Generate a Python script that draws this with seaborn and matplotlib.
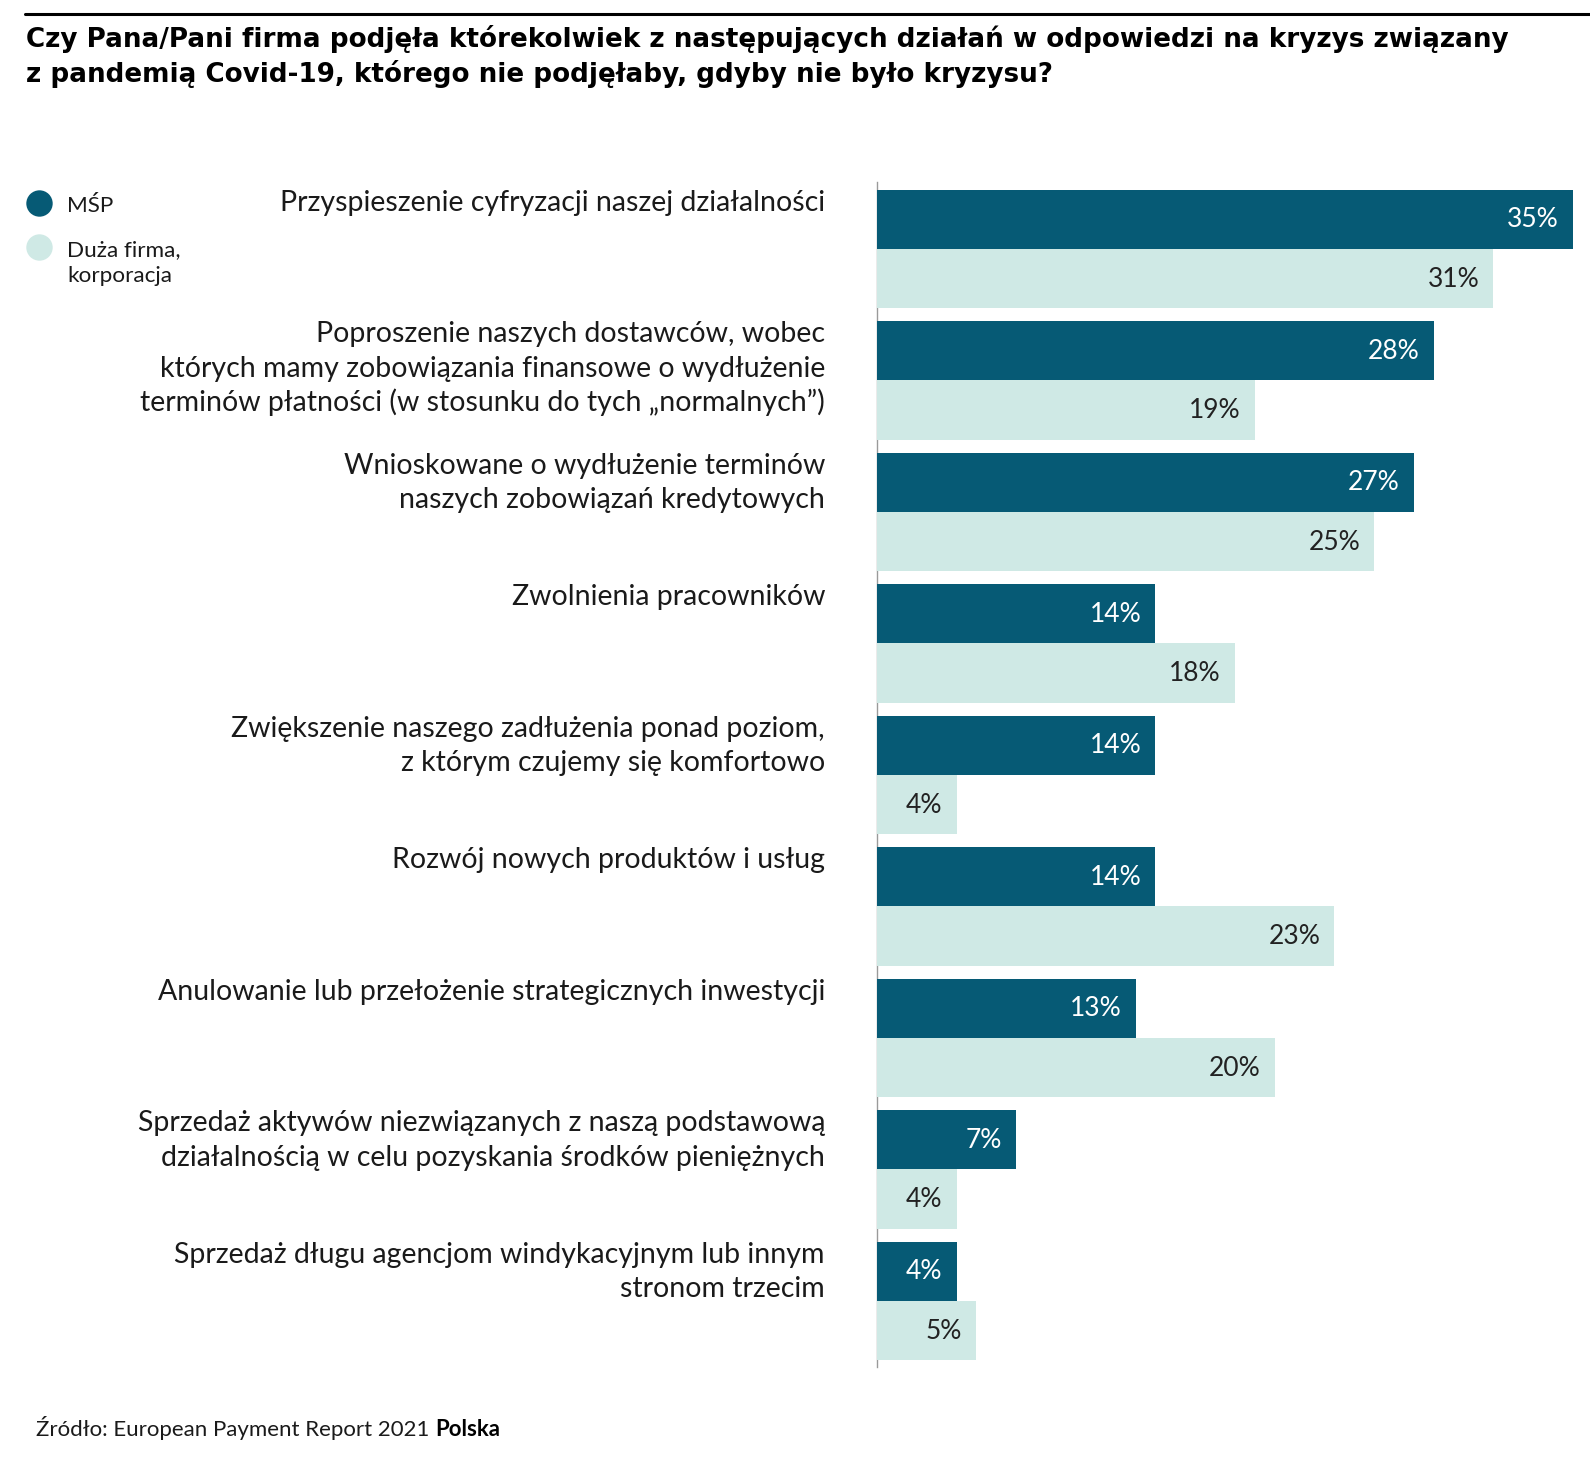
import numpy as np
import pandas as pd
import seaborn as sns
import matplotlib
matplotlib.use("Agg")
import matplotlib.pyplot as plt
import matplotlib.transforms as mtransforms
from matplotlib.lines import Line2D

categories = [
    "Przyspieszenie cyfryzacji naszej działalności",
    "Poproszenie naszych dostawców, wobec\nktórych mamy zobowiązania finansowe o wydłużenie\nterminów płatności (w stosunku do tych „normalnych”)",
    "Wnioskowane o wydłużenie terminów\nnaszych zobowiązań kredytowych",
    "Zwolnienia pracowników",
    "Zwiększenie naszego zadłużenia ponad poziom,\nz którym czujemy się komfortowo",
    "Rozwój nowych produktów i usług",
    "Anulowanie lub przełożenie strategicznych inwestycji",
    "Sprzedaż aktywów niezwiązanych z naszą podstawową\ndziałalnością w celu pozyskania środków pieniężnych",
    "Sprzedaż długu agencjom windykacyjnym lub innym\nstronom trzecim",
]
series_names = ["MŚP", "Duża firma,\nkorporacja"]
msp = [35, 28, 27, 14, 14, 14, 13, 7, 4]
duza = [31, 19, 25, 18, 4, 23, 20, 4, 5]

title_lines = [
    "Czy Pana/Pani firma podjęła którekolwiek z następujących działań w odpowiedzi na kryzys związany",
    "z pandemią Covid-19, którego nie podjęłaby, gdyby nie było kryzysu?",
]
source_plain = "Źródło: European Payment Report 2021 "
source_bold = "Polska"

DARK = "#065a75"
LIGHT = "#cfe9e5"
TXT = "#1a1a1a"

sns.set_theme(style="white")
plt.rcParams["font.family"] = ["Lato", "DejaVu Sans"]

W, H = 1590, 1458
fig = plt.figure(figsize=(W / 100, H / 100), dpi=100)

px_per_unit = (1573 - 877) / 35.0
x_right = W
ax = fig.add_axes([877 / W, 1 - 1367 / H, (x_right - 877) / W, (1367 - 182) / H])

df = pd.DataFrame({
    "cat": categories * 2,
    "val": msp + duza,
    "grp": [series_names[0]] * len(categories) + [series_names[1]] * len(categories),
})

sns.barplot(data=df, y="cat", x="val", hue="grp", orient="h", order=categories,
            hue_order=series_names, palette=[DARK, LIGHT], width=0.898,
            saturation=1, legend=False, ax=ax, errorbar=None, linewidth=0)

ax.set_xlim(0, (x_right - 877) / px_per_unit)
ax.set_ylim(8.502, -0.5095)
ax.set_xlabel("")
ax.set_ylabel("")
ax.set_xticks([])
ax.set_yticks([])
for s in ["top", "right", "bottom"]:
    ax.spines[s].set_visible(False)
ax.spines["left"].set_color("#9a9a9a")
ax.spines["left"].set_linewidth(1.0)
ax.spines["left"].set_zorder(0)
ax.patch.set_alpha(0)

# value labels
for cont, color in zip(ax.containers, ["white", "#222222"]):
    for bar in cont:
        w = bar.get_width()
        yc = bar.get_y() + bar.get_height() / 2
        ax.annotate(f"{w:.0f}%", xy=(w, yc), xytext=(-14, 2), textcoords="offset pixels",
                    ha="right", va="center_baseline", color=color, fontsize=19)

# overlay axes in pixel coordinates
ov = fig.add_axes([0, 0, 1, 1])
ov.set_xlim(0, W)
ov.set_ylim(H, 0)
ov.axis("off")

ov.add_line(Line2D([25, W], [14, 14], color="black", lw=2.2))

for i, line in enumerate(title_lines):
    ov.text(26, 47 + 35 * i, line, ha="left", va="baseline", fontsize=18.9,
            fontweight="bold", color="black", family=["DejaVu Sans"])

# category labels, first baseline below dark bar top
blend = mtransforms.blended_transform_factory(ov.transData, ax.transData)
dark_bars = ax.containers[0]
for lab, bar in zip(categories, dark_bars):
    for j, line in enumerate(lab.split("\n")):
        tr = mtransforms.offset_copy(blend, fig=fig, x=0, y=-(21 + 34.5 * j), units="dots")
        ax.text(825, bar.get_y(), line, transform=tr, ha="right", va="baseline",
                fontsize=20.5, color=TXT, clip_on=False)

# legend
ov.plot([39], [203], marker="o", ms=19, color=DARK, mec="none")
ov.plot([39], [247], marker="o", ms=19, color=LIGHT, mec="none")
ov.text(67, 212, series_names[0], ha="left", va="baseline", fontsize=16.2, color=TXT)
leg2 = series_names[1].split("\n")
ov.text(67, 256, leg2[0], ha="left", va="baseline", fontsize=16.2, color=TXT)
ov.text(67, 282, leg2[1], ha="left", va="baseline", fontsize=16.2, color=TXT)

# source
t = ov.text(36, 1436, source_plain, ha="left", va="baseline", fontsize=16, color=TXT)
fig.canvas.draw()
bb = t.get_window_extent()
inv = ov.transData.inverted()
x_end = inv.transform((bb.x1, bb.y0))[0]
ov.text(x_end, 1436, source_bold, ha="left", va="baseline", fontsize=16,
        fontweight="bold", color="black")

fig.savefig("out.png", dpi=100)
